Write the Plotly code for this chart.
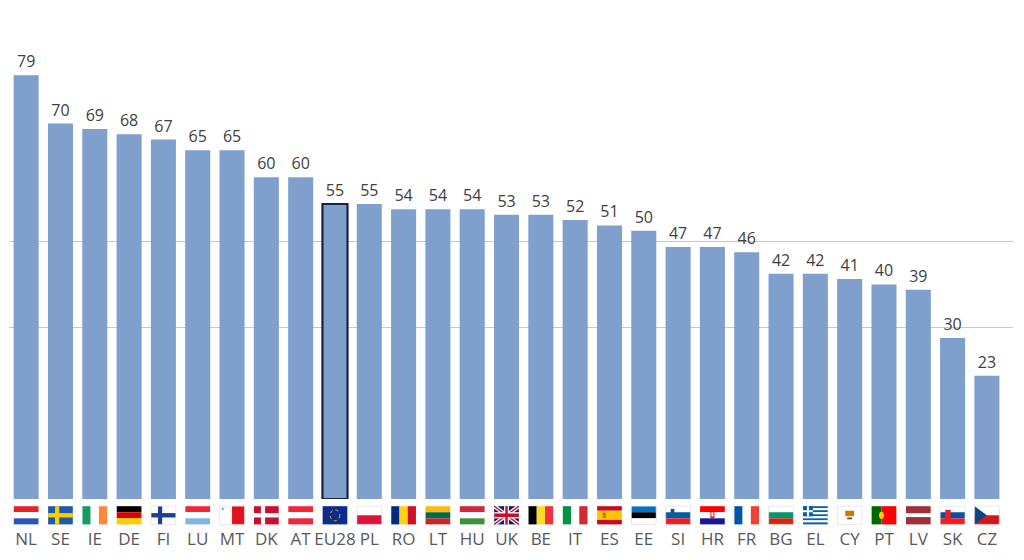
import plotly.graph_objects as go

countries = ["NL", "SE", "IE", "DE", "FI", "LU", "MT", "DK", "AT", "EU28", "PL", "RO", "LT", "HU",
             "UK", "BE", "IT", "ES", "EE", "SI", "HR", "FR", "BG", "EL", "CY", "PT", "LV", "SK", "CZ"]
values = [79, 70, 69, 68, 67, 65, 65, 60, 60, 55, 55, 54, 54, 54,
          53, 53, 52, 51, 50, 47, 47, 46, 42, 42, 41, 40, 39, 30, 23]
grid_values = [32, 48]

BAR = "#7f9fcc"
highlight = "EU28"

fig = go.Figure()
fig.add_trace(go.Bar(
    x=list(range(len(countries))), y=values,
    marker=dict(color=BAR,
                line=dict(color=["#17243f" if c == highlight else BAR for c in countries],
                          width=[2.2 if c == highlight else 0 for c in countries])),
    text=[str(v) for v in values], textposition="outside",
    textfont=dict(family="Open Sans, Noto Sans, sans-serif", size=16, color="#404040"),
    cliponaxis=False, hoverinfo="skip",
))

# ---- flags (decorative, positioned from category index) ----
FW = 0.36          # half-width in category units
FT, FB = -0.015, -0.053  # paper y of flag top / bottom

shapes = []

def rect(i, fx0, fx1, fy0, fy1, color, line=None):
    # fx: 0..1 left->right, fy: 0..1 top->bottom
    x0 = i - FW + 2 * FW * fx0
    x1 = i - FW + 2 * FW * fx1
    y0 = FT + (FB - FT) * fy0
    y1 = FT + (FB - FT) * fy1
    shapes.append(dict(type="rect", xref="x", yref="paper", x0=x0, x1=x1, y0=y0, y1=y1,
                       fillcolor=color, line=line or dict(width=0), layer="above"))

def seg(i, fx0, fy0, fx1, fy1, color, width):
    shapes.append(dict(type="line", xref="x", yref="paper",
                       x0=i - FW + 2 * FW * fx0, x1=i - FW + 2 * FW * fx1,
                       y0=FT + (FB - FT) * fy0, y1=FT + (FB - FT) * fy1,
                       line=dict(color=color, width=width), layer="above"))

def hstripes(i, cols, ratios=None):
    ratios = ratios or [1] * len(cols)
    tot = sum(ratios); acc = 0
    for c, r in zip(cols, ratios):
        rect(i, 0, 1, acc / tot, (acc + r) / tot, c)
        acc += r

def vstripes(i, cols, ratios=None):
    ratios = ratios or [1] * len(cols)
    tot = sum(ratios); acc = 0
    for c, r in zip(cols, ratios):
        rect(i, acc / tot, (acc + r) / tot, 0, 1, c)
        acc += r

def nordic(i, bg, cross, inner=None):
    rect(i, 0, 1, 0, 1, bg)
    rect(i, 0.28, 0.45, 0, 1, cross)
    rect(i, 0, 1, 0.38, 0.62, cross)
    if inner:
        rect(i, 0.33, 0.40, 0, 1, inner)
        rect(i, 0, 1, 0.45, 0.55, inner)

def border(i):
    rect(i, 0, 1, 0, 1, "rgba(0,0,0,0)", dict(color="#d9d9d9", width=0.6))

W = "#ffffff"
for i, c in enumerate(countries):
    if c == "NL": hstripes(i, ["#e0252f", W, "#2a54b8"])
    elif c == "SE": nordic(i, "#1f5aa6", "#fecc00")
    elif c == "IE": vstripes(i, ["#169b62", W, "#ff883e"])
    elif c == "DE": hstripes(i, ["#000000", "#dd0000", "#ffce00"])
    elif c == "FI": nordic(i, W, "#1b3f94"); border(i)
    elif c == "LU": hstripes(i, ["#ed2939", W, "#7fb2e5"])
    elif c == "MT":
        vstripes(i, [W, "#e3101f"]); rect(i, 0.08, 0.16, 0.08, 0.22, "#999999"); border(i)
    elif c == "DK": nordic(i, "#c8102e", W)
    elif c == "AT": hstripes(i, ["#ed2939", W, "#ed2939"])
    elif c == "EU28":
        rect(i, 0, 1, 0, 1, "#0b2c8c")
        shapes.append(dict(type="circle", xref="x", yref="paper",
                           x0=i - 0.14, x1=i + 0.14,
                           y0=FT + (FB - FT) * 0.2, y1=FT + (FB - FT) * 0.8,
                           line=dict(color="#ffdd00", width=0.8, dash="dot"), layer="above"))
    elif c == "PL": hstripes(i, [W, "#dc143c"]); border(i)
    elif c == "RO": vstripes(i, ["#002b7f", "#fcd116", "#ce1126"])
    elif c == "LT": hstripes(i, ["#fdb913", "#006a44", "#c1272d"])
    elif c == "HU": hstripes(i, ["#ce2939", W, "#3f8f3f"])
    elif c == "UK":
        rect(i, 0, 1, 0, 1, "#012169")
        seg(i, 0, 0, 1, 1, W, 4); seg(i, 0, 1, 1, 0, W, 4)
        seg(i, 0, 0, 1, 1, "#c8102e", 1.4); seg(i, 0, 1, 1, 0, "#c8102e", 1.4)
        rect(i, 0.40, 0.60, 0, 1, W); rect(i, 0, 1, 0.33, 0.67, W)
        rect(i, 0.45, 0.55, 0, 1, "#c8102e"); rect(i, 0, 1, 0.40, 0.60, "#c8102e")
    elif c == "BE": vstripes(i, ["#000000", "#fdda24", "#ef3340"])
    elif c == "IT": vstripes(i, ["#009246", W, "#ce2b37"])
    elif c == "ES":
        hstripes(i, ["#c60b1e", "#ffc400", "#c60b1e"], [1, 2, 1])
        rect(i, 0.22, 0.36, 0.35, 0.65, "#c8803a")
    elif c == "EE": hstripes(i, ["#0072ce", "#000000", W]); border(i)
    elif c == "SI":
        hstripes(i, [W, "#005da4", "#ed1c24"]); rect(i, 0.2, 0.35, 0.15, 0.5, "#005da4"); border(i)
    elif c == "HR":
        hstripes(i, ["#ff0000", W, "#171796"]); rect(i, 0.42, 0.58, 0.25, 0.65, "#ff0000")
        rect(i, 0.46, 0.54, 0.33, 0.57, W)
    elif c == "FR": vstripes(i, ["#0055a4", W, "#ef4135"])
    elif c == "BG": hstripes(i, [W, "#00966e", "#d62612"]); border(i)
    elif c == "EL":
        hstripes(i, ["#0d5eaf", W] * 4 + ["#0d5eaf"])
        rect(i, 0, 0.4, 0, 5 / 9, "#0d5eaf")
        rect(i, 0.16, 0.24, 0, 5 / 9, W); rect(i, 0, 0.4, 2 / 9, 3 / 9, W)
    elif c == "CY":
        rect(i, 0, 1, 0, 1, W); rect(i, 0.32, 0.68, 0.25, 0.55, "#d57800")
        rect(i, 0.4, 0.6, 0.62, 0.72, "#4e5b31"); border(i)
    elif c == "PT":
        vstripes(i, ["#006600", "#ff0000"], [2, 3])
        shapes.append(dict(type="circle", xref="x", yref="paper",
                           x0=i - FW + 2 * FW * 0.3, x1=i - FW + 2 * FW * 0.5,
                           y0=FT + (FB - FT) * 0.3, y1=FT + (FB - FT) * 0.7,
                           fillcolor="#ffcc00", line=dict(width=0), layer="above"))
    elif c == "LV": hstripes(i, ["#9e3039", W, "#9e3039"], [2, 1, 2])
    elif c == "SK":
        hstripes(i, [W, "#0b4ea2", "#ee1c25"]); rect(i, 0.2, 0.42, 0.2, 0.8, "#ee1c25"); border(i)
    elif c == "CZ":
        hstripes(i, [W, "#d7141a"])
        shapes.append(dict(type="path", xref="x", yref="paper",
                           path="M {a},{t} L {m},{mid} L {a},{b} Z".format(
                               a=i - FW, m=i, t=FT, b=FB, mid=(FT + FB) / 2),
                           fillcolor="#11457e", line=dict(width=0), layer="above"))
        border(i)

# the page body adds an 8px offset; size/margins compensate for it
fig.update_layout(
    width=1016, height=552,
    margin=dict(l=1, r=11, t=12, b=61),
    paper_bgcolor="white", plot_bgcolor="white",
    showlegend=False, bargap=0.27,
    shapes=shapes,
    xaxis=dict(range=[-0.5, 28.76], tickmode="array",
               tickvals=list(range(len(countries))), ticktext=countries,
               showgrid=False, zeroline=False, showline=False, ticks="",
               ticklabelstandoff=28,
               tickfont=dict(family="Open Sans, Noto Sans, sans-serif", size=17, color="#595959")),
    yaxis=dict(range=[0, 89.3], tickmode="array", tickvals=grid_values,
               showticklabels=False, showgrid=True, gridcolor="#c8c8c8", gridwidth=1,
               zeroline=False, showline=False, ticks=""),
)

fig.write_html("out.html")
